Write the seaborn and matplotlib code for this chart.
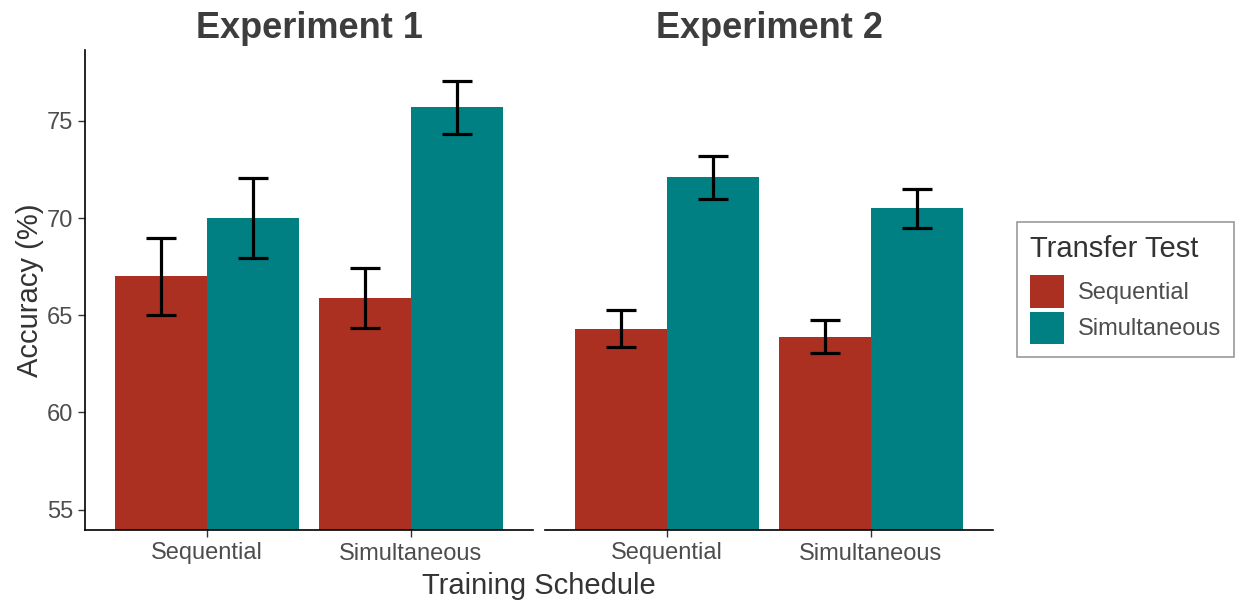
import matplotlib
matplotlib.use("Agg")
import matplotlib.pyplot as plt
import seaborn as sns
import pandas as pd
import numpy as np

experiments = ["Experiment 1", "Experiment 2"]
schedules = ["Sequential", "Simultaneous"]
tests = ["Sequential", "Simultaneous"]

# accuracy means [experiment][schedule][test]
exp1_means = [[67.0, 70.0], [65.9, 75.7]]
exp2_means = [[64.3, 72.1], [63.9, 70.5]]
# error bar half-widths
exp1_err = [[2.0, 2.05], [1.55, 1.35]]
exp2_err = [[0.95, 1.1], [0.85, 1.0]]

colors = {"Sequential": "#AB3022", "Simultaneous": "#008083"}

sns.set_theme(style="white")
plt.rcParams["font.family"] = ["Liberation Sans", "DejaVu Sans"]

W, H = 1238, 603
fig = plt.figure(figsize=(W / 100, H / 100), dpi=100)

def px_axes(x0, x1, y0, y1):
    return fig.add_axes([x0 / W, 1 - y1 / H, (x1 - x0) / W, (y1 - y0) / H])

ax1 = px_axes(84.6, 533.4, 50, 530)
ax2 = px_axes(544.6, 993.4, 50, 530)

tick_col = "#4D4D4D"
for ax, exp, means, errs in [(ax1, experiments[0], exp1_means, exp1_err),
                             (ax2, experiments[1], exp2_means, exp2_err)]:
    rows = []
    for i, s in enumerate(schedules):
        for j, t in enumerate(tests):
            rows.append({"Training Schedule": s, "Transfer Test": t,
                         "Accuracy": means[i][j], "err": errs[i][j]})
    df = pd.DataFrame(rows)
    sns.barplot(data=df, x="Training Schedule", y="Accuracy", hue="Transfer Test",
                order=schedules, hue_order=tests, palette=colors, width=0.9,
                errorbar=None, saturation=1, ax=ax, linewidth=0)
    # error bars placed at bar centers
    for container, t in zip(ax.containers, tests):
        sub = df[df["Transfer Test"] == t].set_index("Training Schedule").loc[schedules]
        xs = [p.get_x() + p.get_width() / 2 for p in container.patches]
        ax.errorbar(xs, sub["Accuracy"].values, yerr=sub["err"].values, fmt="none",
                    ecolor="black", elinewidth=2.3, capsize=10.5, capthick=2.3, zorder=5)
    ax.set_ylim(53.95, 78.65)
    ax.set_xlim(-0.6, 1.6)
    ax.set_title(exp, fontsize=26, fontweight="bold", color="#3D3D3D", pad=9)
    ax.set_xlabel("")
    ax.set_ylabel("")
    ax.get_legend().remove()
    for side in ["top", "right"]:
        ax.spines[side].set_visible(False)
    ax.spines["bottom"].set_color("black")
    ax.spines["bottom"].set_linewidth(1.2)
    ax.tick_params(axis="x", colors=tick_col, labelsize=17, length=5, width=1,
                   direction="out", bottom=True, pad=4)
    ax.tick_params(axis="x", which="major", color="#333333")

ax1.spines["left"].set_color("black")
ax1.spines["left"].set_linewidth(1.2)
ax1.set_yticks([55, 60, 65, 70, 75])
ax1.tick_params(axis="y", colors=tick_col, labelsize=17, length=5, width=1,
                left=True, pad=3)
ax1.tick_params(axis="y", color="#333333")
ax2.spines["left"].set_visible(False)
ax2.set_yticks([55, 60, 65, 70, 75])
ax2.tick_params(axis="y", left=False, labelleft=False)

fig.text(539 / W, 1 - 586 / H, "Training Schedule", ha="center", va="center",
         fontsize=21, color="#333333")
fig.text(30 / W, 1 - 290 / H, "Accuracy (%)", ha="center", va="center",
         rotation=90, fontsize=21, color="#333333")

handles, labels = ax1.get_legend_handles_labels()
leg = fig.legend(handles, labels, title="Transfer Test", loc="upper left",
                 bbox_to_anchor=(1017 / W, 1 - 222 / H), frameon=True,
                 fontsize=17, title_fontsize=21, handlelength=1.44, handleheight=1.71,
                 labelspacing=0.17, handletextpad=0.6, borderpad=0.55, borderaxespad=0,
                 fancybox=False)
leg.get_frame().set_edgecolor("#808080")
leg.get_frame().set_linewidth(1.2)
leg._legend_box.align = "left"
leg._legend_box.sep = 9
for txt in leg.get_texts():
    txt.set_color(tick_col)
leg.get_title().set_color("#333333")

fig.savefig("out.png", dpi=100)
